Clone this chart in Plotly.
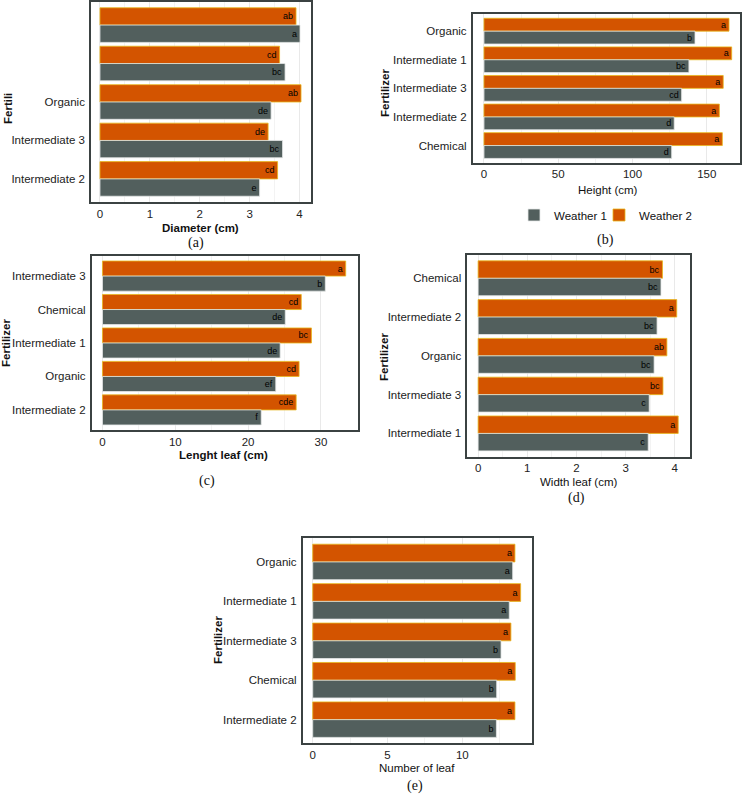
import plotly.graph_objects as go

W, H = 746, 796
GREY = "#525f5d"
ORANGE = "#d35400"

# ---------------- data ----------------
cat_a = ["Chemical", "Intermediate 1", "Organic", "Intermediate 3", "Intermediate 2"]
w1_a = [4.01, 3.71, 3.43, 3.66, 3.20]
w2_a = [3.93, 3.60, 4.03, 3.37, 3.56]
lt1_a = ["a", "bc", "de", "bc", "e"]
lt2_a = ["ab", "cd", "ab", "de", "cd"]

cat_b = ["Organic", "Intermediate 1", "Intermediate 3", "Intermediate 2", "Chemical"]
w1_b = [142.1, 138.0, 133.1, 128.1, 126.4]
w2_b = [165.0, 166.8, 161.1, 158.5, 160.5]
lt1_b = ["b", "bc", "cd", "d", "d"]
lt2_b = ["a", "a", "a", "a", "a"]

cat_c = ["Intermediate 3", "Chemical", "Intermediate 1", "Organic", "Intermediate 2"]
w1_c = [30.6, 25.1, 24.4, 23.8, 21.8]
w2_c = [33.4, 27.3, 28.7, 27.0, 26.6]
lt1_c = ["b", "de", "de", "ef", "f"]
lt2_c = ["a", "cd", "bc", "cd", "cde"]

cat_d = ["Chemical", "Intermediate 2", "Organic", "Intermediate 3", "Intermediate 1"]
w1_d = [3.72, 3.64, 3.58, 3.48, 3.46]
w2_d = [3.75, 4.04, 3.84, 3.76, 4.07]
lt1_d = ["bc", "bc", "bc", "c", "c"]
lt2_d = ["bc", "a", "ab", "bc", "a"]

cat_e = ["Organic", "Intermediate 1", "Intermediate 3", "Chemical", "Intermediate 2"]
w1_e = [13.37, 13.14, 12.59, 12.30, 12.28]
w2_e = [13.52, 13.90, 13.25, 13.54, 13.52]
lt1_e = ["a", "a", "b", "b", "b"]
lt2_e = ["a", "a", "a", "a", "a"]

series_names = ["Weather 1", "Weather 2"]

# ---------------- layout helpers ----------------
def fx(px):
    return px / W

def fy(py):
    return 1 - py / H

FONT = "Liberation Sans, Arial, sans-serif"
SERIF = "Liberation Serif, Times New Roman, serif"

panels = [
    dict(cat=cat_a, w1=w1_a, w2=w2_a, l1=lt1_a, l2=lt2_a, frame=(91, 311, 2, 202),
         xr=[-0.18, 4.23], dt=1, hide=2),
    dict(cat=cat_b, w1=w1_b, w2=w2_b, l1=lt1_b, l2=lt2_b, frame=(472.7, 740, 14, 162.7),
         xr=[-7.6, 172.4], dt=50, hide=0),
    dict(cat=cat_c, w1=w1_c, w2=w2_c, l1=lt1_c, l2=lt2_c, frame=(91.7, 357.7, 256, 430),
         xr=[-1.48, 35.05], dt=10, hide=0),
    dict(cat=cat_d, w1=w1_d, w2=w2_d, l1=lt1_d, l2=lt2_d, frame=(467.3, 690, 255, 456.7),
         xr=[-0.22, 4.31], dt=1, hide=0),
    dict(cat=cat_e, w1=w1_e, w2=w2_e, l1=lt1_e, l2=lt2_e, frame=(302.7, 531.7, 538.3, 743.3),
         xr=[-0.67, 14.64], dt=5, hide=0),
]

fig = go.Figure()
layout = {}
for i, p in enumerate(panels):
    sfx = "" if i == 0 else str(i + 1)
    xa, ya = "x" + sfx, "y" + sfx
    showleg = (i == 1)
    fig.add_trace(go.Bar(
        y=p["cat"], x=p["w2"], orientation="h", name=series_names[1],
        marker=dict(color=ORANGE, line=dict(color="#e9b81c", width=0.8)),
        text=p["l2"], textposition="inside", insidetextanchor="end", textangle=0,
        constraintext="none",
        insidetextfont=dict(family=FONT, size=9, color="black"),
        xaxis=xa, yaxis=ya, showlegend=showleg, legend="legend2",
    ))
    fig.add_trace(go.Bar(
        y=p["cat"], x=p["w1"], orientation="h", name=series_names[0],
        marker=dict(color=GREY, line=dict(color="#e6e9e9", width=0.8)),
        text=p["l1"], textposition="inside", insidetextanchor="end", textangle=0,
        constraintext="none",
        insidetextfont=dict(family=FONT, size=9, color="black"),
        xaxis=xa, yaxis=ya, showlegend=showleg, legend="legend",
    ))
    x0, x1, y0, y1 = p["frame"]
    n = len(p["cat"])
    ticktext = ["" if k < p["hide"] else c for k, c in enumerate(p["cat"])]
    layout["xaxis" + sfx] = dict(
        domain=[fx(x0), fx(x1)], anchor=ya, range=p["xr"], dtick=p["dt"], tick0=0,
        showgrid=True, gridcolor="#e9e9e9", gridwidth=1,
        minor=dict(dtick=p["dt"] / 2, showgrid=True, gridcolor="#f3f3f3", gridwidth=1),
        zeroline=False, showline=True, mirror=True, linecolor="#3b4242", linewidth=1.6,
        ticks="", tickfont=dict(family=FONT, size=11.5, color="#222"), ticklabelstandoff=0,
        fixedrange=True,
    )
    layout["yaxis" + sfx] = dict(
        domain=[fy(y1), fy(y0)], anchor=xa, type="category",
        categoryorder="array", categoryarray=p["cat"],
        range=[n - 0.5 + 0.1, -0.6],
        tickmode="array", tickvals=p["cat"], ticktext=ticktext,
        showgrid=False, zeroline=False, showline=True, mirror=True,
        linecolor="#3b4242", linewidth=1.6, ticks="",
        tickfont=dict(family=FONT, size=11.5, color="#222"), ticklabelstandoff=2,
        fixedrange=True,
    )

ann = []
def add_text(text, x, y, size=11.5, bold=False, angle=0, family=FONT, color="#111"):
    ann.append(dict(
        text=("<b>%s</b>" % text) if bold else text, x=fx(x), y=fy(y), xref="paper", yref="paper",
        showarrow=False, textangle=angle, font=dict(family=family, size=size, color=color),
        xanchor="center", yanchor="middle",
    ))

# x titles
add_text("Diameter (cm)", 200, 228, bold=True)
add_text("Height (cm)", 608, 190)
add_text("Lenght leaf (cm)", 224, 455, bold=True)
add_text("Width leaf (cm)", 578, 482)
add_text("Number of leaf", 417, 768)
# y titles
add_text("Fertili", 8, 109, bold=True, angle=-90)
add_text("Fertilizer", 385, 93, bold=True, angle=-90)
add_text("Fertilizer", 6, 343, bold=True, angle=-90)
add_text("Fertilizer", 384, 357, bold=True, angle=-90)
add_text("Fertilizer", 218, 640, bold=True, angle=-90)
# panel labels
add_text("(a)", 196, 243, size=14, family=SERIF)
add_text("(b)", 605, 240, size=14, family=SERIF)
add_text("(c)", 207, 481, size=14, family=SERIF)
add_text("(d)", 576, 498, size=14, family=SERIF)
add_text("(e)", 415, 786, size=14, family=SERIF)

leg_common = dict(orientation="h", yanchor="middle", xanchor="left",
                  font=dict(family=FONT, size=11.5, color="#111"), itemwidth=30,
                  bgcolor="rgba(0,0,0,0)")

fig.update_layout(
    width=W, height=H, margin=dict(l=0, r=0, t=0, b=0),
    paper_bgcolor="white", plot_bgcolor="white",
    barmode="group", bargap=0.1, bargroupgap=0,
    showlegend=True,
    legend=dict(x=fx(514), y=fy(215), **leg_common),
    legend2=dict(x=fx(599), y=fy(215), **leg_common),
    annotations=ann,
    **layout,
)

fig.write_html("out.html")
